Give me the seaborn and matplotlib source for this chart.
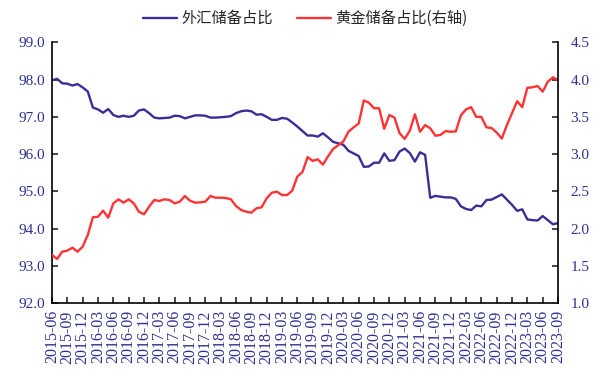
import pandas as pd
import matplotlib
matplotlib.use('Agg')
import matplotlib.pyplot as plt
import seaborn as sns

# 月份（2015-06 ~ 2023-09）
months = [p.strftime('%Y-%m') for p in pd.period_range('2015-06', '2023-09', freq='M')]

# 外汇储备占比（左轴, %）
fx_share = [
    97.98, 98.02, 97.90, 97.89, 97.84, 97.88, 97.79, 97.68, 97.25, 97.20,
    97.11, 97.21, 97.05, 97.00, 97.03, 97.00, 97.03, 97.17, 97.20, 97.10,
    96.98, 96.96, 96.97, 96.98, 97.03, 97.02, 96.96, 97.00, 97.04, 97.04,
    97.03, 96.98, 96.98, 96.99, 97.00, 97.02, 97.10, 97.15, 97.17, 97.15,
    97.06, 97.07, 97.00, 96.92, 96.92, 96.97, 96.95, 96.85, 96.74, 96.62,
    96.50, 96.50, 96.47, 96.56, 96.45, 96.33, 96.29, 96.25, 96.09, 96.02,
    95.95, 95.66, 95.67, 95.77, 95.77, 96.02, 95.82, 95.84, 96.07, 96.15,
    96.03, 95.80, 96.05, 95.98, 94.83, 94.88, 94.86, 94.84, 94.84, 94.80,
    94.60, 94.53, 94.50, 94.62, 94.60, 94.77, 94.78, 94.85, 94.92, 94.78,
    94.64, 94.48, 94.52, 94.25, 94.23, 94.22, 94.34, 94.23, 94.12, 94.15,
]

# 黄金储备占比（右轴, %）
gold_share = [
    1.648, 1.594, 1.692, 1.706, 1.746, 1.692, 1.759, 1.916, 2.153, 2.161,
    2.242, 2.148, 2.340, 2.394, 2.349, 2.394, 2.340, 2.228, 2.193, 2.295,
    2.385, 2.372, 2.394, 2.385, 2.340, 2.363, 2.439, 2.376, 2.349, 2.354,
    2.363, 2.439, 2.416, 2.416, 2.412, 2.394, 2.305, 2.251, 2.228, 2.215,
    2.274, 2.287, 2.408, 2.483, 2.497, 2.452, 2.452, 2.510, 2.700, 2.760,
    2.960, 2.910, 2.930, 2.860, 2.970, 3.070, 3.120, 3.170, 3.300, 3.360,
    3.410, 3.720, 3.690, 3.615, 3.615, 3.340, 3.525, 3.490, 3.280, 3.205,
    3.315, 3.535, 3.300, 3.390, 3.347, 3.248, 3.257, 3.310, 3.300, 3.305,
    3.520, 3.600, 3.630, 3.500, 3.500, 3.360, 3.350, 3.290, 3.210, 3.390,
    3.550, 3.710, 3.630, 3.890, 3.896, 3.914, 3.838, 3.972, 4.030, 3.994,
]

df = pd.DataFrame({'idx': range(len(months)), 'month': months,
                   'fx': fx_share, 'gold': gold_share})

sns.set_style('ticks')
plt.rcParams['font.family'] = ['Liberation Serif', 'Noto Sans CJK SC', 'DejaVu Sans']

purple = '#3A2E96'
red = '#FF3333'
tick_color = '#2E3192'

fig = plt.figure(figsize=(6.11, 3.76), dpi=100)
ax = fig.add_axes([0.0851, 0.1934, 0.8282, 0.6941])
ax2 = ax.twinx()

sns.lineplot(data=df, x='idx', y='fx', ax=ax, color=purple, linewidth=1.7, label='外汇储备占比', legend=False)
sns.lineplot(data=df, x='idx', y='gold', ax=ax2, color=red, linewidth=1.7, label='黄金储备占比(右轴)', legend=False)

ax.set_xlim(0, len(months) - 1)
ax.set_ylim(92, 99)
ax2.set_ylim(1.0, 4.5)
ax.set_yticks([92, 93, 94, 95, 96, 97, 98, 99])
ax.set_yticklabels([f'{v:.1f}' for v in ax.get_yticks()])
ax2.set_yticks([1.0, 1.5, 2.0, 2.5, 3.0, 3.5, 4.0, 4.5])
ax2.set_yticklabels([f'{v:.1f}' for v in ax2.get_yticks()])

tick_pos = list(range(0, len(months), 3))
ax.set_xticks(tick_pos)
ax.set_xticklabels([months[i] for i in tick_pos], rotation=90)

ax.set_xlabel('')
ax.set_ylabel('')
ax2.set_ylabel('')

for a in (ax, ax2):
    a.spines['top'].set_visible(False)
    for s in a.spines.values():
        s.set_linewidth(1.2)
        s.set_color('black')
ax.spines['right'].set_visible(False)
ax2.spines['left'].set_visible(False)
ax2.spines['bottom'].set_visible(False)

ax.tick_params(axis='y', direction='in', length=4, width=1.2, pad=5,
               labelsize=11, labelcolor=tick_color)
ax.tick_params(axis='x', direction='in', length=4, width=1.2, pad=5,
               labelsize=11.5, labelcolor=tick_color)
ax2.tick_params(axis='y', direction='in', length=4, width=1.2, pad=9,
                labelsize=11, labelcolor=tick_color)

h1, l1 = ax.get_legend_handles_labels()
h2, l2 = ax2.get_legend_handles_labels()
fig.legend(h1 + h2, l1 + l2, loc='upper center', bbox_to_anchor=(0.5, 1.01),
           ncol=2, frameon=False, handlelength=2.2, columnspacing=1.6,
           handletextpad=0.3, prop={'family': 'Noto Sans CJK SC', 'size': 11})

fig.savefig('out.png', dpi=100)
